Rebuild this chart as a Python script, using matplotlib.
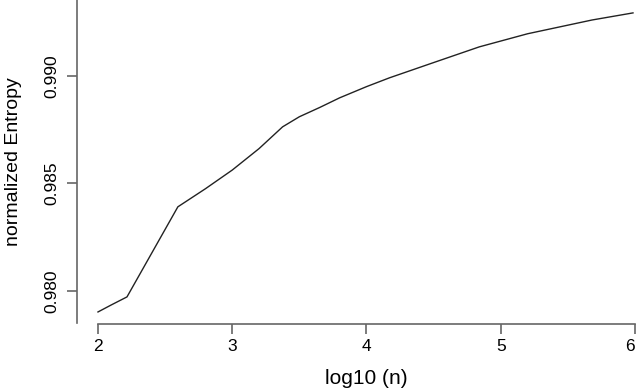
import matplotlib
matplotlib.use("Agg")
import matplotlib.pyplot as plt

plt.rcParams["font.family"] = ["Liberation Sans", "DejaVu Sans"]

log_n = [2.0, 2.1, 2.216, 2.595, 2.8, 3.0, 3.2, 3.375, 3.5, 3.651, 3.8, 4.0, 4.171,
         4.5, 4.84, 5.2, 5.68, 5.985]
entropy = [0.97902, 0.97935, 0.97972, 0.98391, 0.98475, 0.98562, 0.98662, 0.98763,
           0.98810, 0.98853, 0.98898, 0.98950, 0.98991, 0.99062, 0.99135,
           0.99196, 0.99260, 0.99293]
xticks = [2, 3, 4, 5, 6]
yticks = [0.980, 0.985, 0.990]

W, H = 640, 390
fig = plt.figure(figsize=(6.4, 3.9), dpi=100)
# plot region in pixels: x 76.5..656.5, y 0..324
ax = fig.add_axes([76.5 / W, (H - 324) / H, 580 / W, 324 / H])
ax.plot(log_n, entropy, color="#222222", lw=1.0)
ax.set_xlim(1.84, 6.16)
ax.set_ylim(0.97846, 0.99353)

for s in ["top", "right"]:
    ax.spines[s].set_visible(False)
ax.spines["left"].set_bounds(0.97846 + 0.00003, 0.99353)
ax.spines["bottom"].set_bounds(2, 6)
ax.spines["left"].set_color("#666666")
ax.spines["bottom"].set_color("#666666")
ax.spines["left"].set_linewidth(1.2)
ax.spines["bottom"].set_linewidth(1.2)

ax.set_xticks(xticks)
ax.set_xticklabels([str(t) for t in xticks])
ax.set_yticks(yticks)
ax.set_yticklabels(["%.3f" % t for t in yticks], rotation=90, va="center")
ax.tick_params(axis="both", length=7, width=1.2, color="#666666", labelsize=12.5)
ax.tick_params(axis="x", pad=4)
ax.tick_params(axis="y", pad=5)
ax.get_xticklabels()[-1].set_horizontalalignment("right")
ax.get_xticklabels()[-1].set_x(6.03)

fig.text(366 / W, 1 - 379 / H, "log10 (n)", ha="center", va="center", fontsize=15)
fig.text(14 / W, 1 - 162 / H, "normalized Entropy", ha="center", va="center",
         rotation=90, fontsize=14)

fig.savefig("out.png", dpi=100)
